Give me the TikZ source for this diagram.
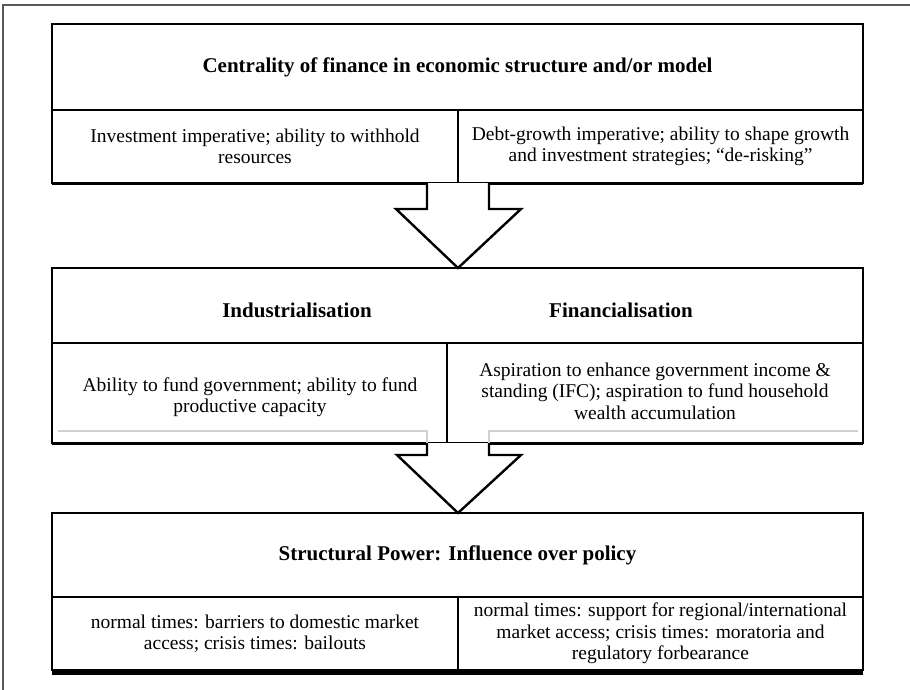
\documentclass[tikz,border=0pt]{standalone}
\usepackage{fontspec}
\setmainfont{Liberation Serif}
\begin{document}
\begin{tikzpicture}[x=1pt,y=-1pt,
  cell/.style={draw=black,line width=2.4pt,minimum width=#1,inner sep=0pt,outer sep=0pt,anchor=north west},
  txt/.style={align=center,font=\fontsize{19.5}{21.5}\selectfont,inner sep=0pt},
  ttl/.style={align=center,font=\fontsize{21}{24}\selectfont\bfseries,inner sep=0pt},
  blockarrow/.style={draw=black,fill=white,line width=2.4pt,line join=miter},
  ghost/.style={draw=black!18,line width=2pt},
  shadowline/.style={line width=#1}]
\useasboundingbox (0,0) rectangle (910,690);
% outer frame
\draw[draw=black!65,line width=1.8pt] (3,700) -- (3,5) -- (920,5);
% box 1
\node[cell=811pt,minimum height=86pt] (b1t) at (52,24) {};
\node[cell=406pt,minimum height=73pt] (b1l) at (52,110) {};
\node[cell=405pt,minimum height=73pt] (b1r) at (458,110) {};
\draw[shadowline=2pt] ([yshift=-1.2pt]b1l.south west) -- ([yshift=-1.2pt]b1r.south east);
\node[ttl] (t1) at (b1t.center) {Centrality of finance in economic structure and/or model};
\node[txt] (l1) at (b1l.center) {Investment imperative; ability to withhold\\resources};
\node[txt] (r1) at (b1r.center) {Debt-growth imperative; ability to shape growth\\and investment strategies; ``de-risking''};
% box 2
\node[cell=811pt,minimum height=75pt] (b2t) at (52,268) {};
\node[cell=395pt,minimum height=100pt] (b2l) at (52,343) {};
\node[cell=416pt,minimum height=100pt] (b2r) at (447,343) {};
\draw[ghost] (58,431) -- (427,431) -- (427,443);
\draw[ghost] (489,443) -- (489,431) -- (858,431);
\draw[shadowline=2pt] ([yshift=-1.2pt]b2l.south west) -- ([yshift=-1.2pt]b2r.south east);
\node[ttl] (h2l) at (297,310) {Industrialisation};
\node[ttl] (h2r) at (621,310) {Financialisation};
\node[txt] (l2) at (250,397) {Ability to fund government; ability to fund\\productive capacity};
\node[txt] (r2) at (655,391) {Aspiration to enhance government income \&\\standing (IFC); aspiration to fund household\\wealth accumulation};
% box 3
\node[cell=811pt,minimum height=84pt] (b3t) at (52,513) {};
\node[cell=406pt,minimum height=73pt] (b3l) at (52,597) {};
\node[cell=405pt,minimum height=73pt] (b3r) at (458,597) {};
\draw[shadowline=5pt] ([yshift=-2.5pt]b3l.south west) -- ([yshift=-2.5pt]b3r.south east);
\node[ttl] (t3) at (b3t.center) {Structural Power: Influence over policy};
\node[txt] (l3) at (b3l.center) {normal times: barriers to domestic market\\access; crisis times: bailouts};
\node[txt] (r3) at (b3r.center) {normal times: support for regional/international\\market access; crisis times: moratoria and\\regulatory forbearance};
% arrows
\draw[blockarrow] (427,183) -- (427,209) -- (396,209) -- (b2t.north -| 458,0) -- (521,209) -- (489,209) -- (489,183);
\draw[blockarrow] (427,443) -- (427,455) -- (397,455) -- (b3t.north -| 458,0) -- (521,455) -- (489,455) -- (489,443);
\end{tikzpicture}
\end{document}
